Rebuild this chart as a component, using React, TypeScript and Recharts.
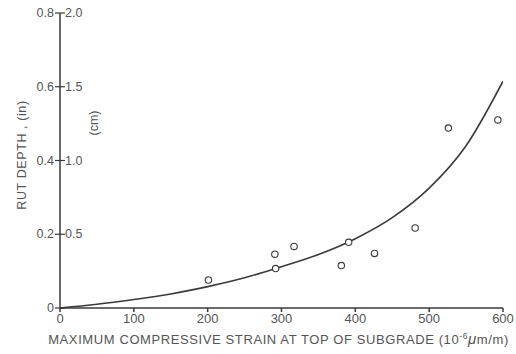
import React from "react";
import { ComposedChart, Line, Scatter, XAxis, YAxis } from "recharts";

const curveStrain = [0, 50, 100, 150, 200, 250, 300, 350, 400, 450, 500, 550, 600];
const curveRut = [0, 0.01, 0.023, 0.038, 0.058, 0.082, 0.112, 0.145, 0.188, 0.245, 0.325, 0.44, 0.615];

const pointStrain = [201, 291, 292, 317, 381, 391, 426, 481, 526, 593];
const pointRut = [0.076, 0.146, 0.107, 0.167, 0.115, 0.178, 0.148, 0.217, 0.488, 0.51];

const xTicks = [0, 100, 200, 300, 400, 500, 600];
const yTicks = [0, 0.2, 0.4, 0.6, 0.8];
const yInLabels = ["0", "0.2", "0.4", "0.6", "0.8"];
const yCmLabels = ["", "0.5", "1.0", "1.5", "2.0"];

const curveData = curveStrain.map((x, i) => ({ x, curve: curveRut[i] }));
const pointData = pointStrain.map((x, i) => ({ x, y: pointRut[i] }));

const INK = "#3a3a3a";
const TXT = "#555";
const FONT = "'Liberation Sans', Arial, sans-serif";

const YTick = (props: any) => {
  const { x, y, payload, index } = props;
  const i = yTicks.indexOf(payload.value);
  const idx = i >= 0 ? i : index;
  return (
    <g>
      <line x1={x + 1} x2={x + 11} y1={y} y2={y} stroke={INK} strokeWidth={1.2} />
      <text x={x} y={y} dy={4} textAnchor="end" fontSize={12.5} fill={TXT} fontFamily={FONT}>
        {yInLabels[idx]}
      </text>
      <text x={x + 11} y={y} dy={4} textAnchor="start" fontSize={12.5} fill={TXT} fontFamily={FONT}>
        {yCmLabels[idx]}
      </text>
    </g>
  );
};

const Circle = (props: any) => {
  const { cx, cy } = props;
  return <circle cx={cx} cy={cy} r={3.2} fill="white" stroke={INK} strokeWidth={1.1} />;
};

const XTitle = (props: any) => {
  const vb = props.viewBox || {};
  const cx = vb.x + vb.width / 2;
  const yy = vb.y + vb.height - 4;
  return (
    <text x={cx - 3} y={yy} textAnchor="middle" fontSize={13} fill={TXT} fontFamily={FONT} letterSpacing={0.6}>
      <tspan>MAXIMUM  COMPRESSIVE STRAIN AT TOP OF SUBGRADE (10</tspan>
      <tspan dy={-5} fontSize={8.5}>-6</tspan>
      <tspan dy={5} fontStyle="italic" fontSize={15}>μ</tspan>
      <tspan>m/m)</tspan>
    </text>
  );
};

export default function App() {
  return (
    <div style={{ position: "fixed", left: 0, top: 0, width: 516, height: 354, background: "white" }}>
      <ComposedChart
        width={516}
        height={354}
        margin={{ top: 13, right: 13, bottom: 6, left: 30 }}
        style={{ overflow: "visible" }}
      >
        <XAxis
          dataKey="x"
          type="number"
          domain={[0, 600]}
          ticks={xTicks}
          allowDataOverflow
          stroke={INK}
          strokeWidth={1.5}
          tickSize={4}
          tick={{ fontSize: 13, fill: TXT, fontFamily: FONT }}
          height={40}
          label={<XTitle />}
        />
        <YAxis
          type="number"
          domain={[0, 0.8]}
          ticks={yTicks}
          stroke={INK}
          strokeWidth={1.5}
          tickLine={false}
          tickSize={0}
          tickMargin={6}
          width={30}
          tick={<YTick />}
        />
        <Line
          data={curveData}
          dataKey="curve"
          type="monotone"
          stroke={INK}
          strokeWidth={1.6}
          dot={false}
          isAnimationActive={false}
        />
        <Scatter
          data={pointData}
          dataKey="y"
          shape={<Circle />}
          isAnimationActive={false}
        />
      </ComposedChart>
      <div
        style={{
          position: "absolute",
          left: 22,
          top: 155,
          transform: "translate(-50%, -50%) rotate(-90deg)",
          whiteSpace: "nowrap",
          fontSize: 12.5,
          color: TXT,
          fontFamily: FONT,
          letterSpacing: 0.6,
        }}
      >
        RUT DEPTH , (in)
      </div>
      <div
        style={{
          position: "absolute",
          left: 94,
          top: 123,
          transform: "translate(-50%, -50%) rotate(-90deg)",
          whiteSpace: "nowrap",
          fontSize: 12.5,
          color: TXT,
          fontFamily: FONT,
        }}
      >
        (cm)
      </div>
    </div>
  );
}
